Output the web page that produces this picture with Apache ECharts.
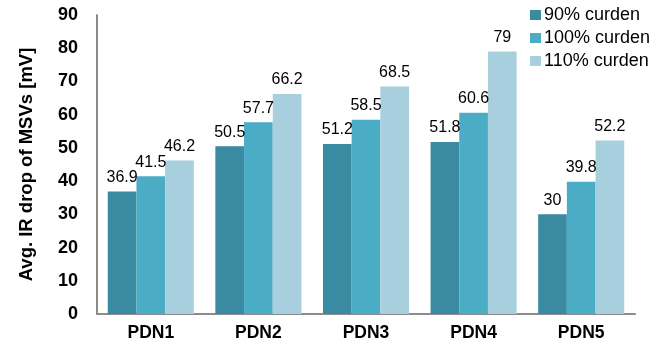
<!DOCTYPE html>
<html><head><meta charset="utf-8">
<script src="https://cdn.jsdelivr.net/npm/echarts@6/dist/echarts.min.js"></script>
<style>html,body{margin:0;padding:0;background:#fff}#c{width:672px;height:347px}</style>
</head><body><div id="c"></div>
<script>
const categories = ['PDN1','PDN2','PDN3','PDN4','PDN5'];
const seriesNames = ['90% curden','100% curden','110% curden'];
const s90 = [36.9, 50.5, 51.2, 51.8, 30];
const s100 = [41.5, 57.7, 58.5, 60.6, 39.8];
const s110 = [46.2, 66.2, 68.5, 79, 52.2];
const colors = ['#3A8AA1','#4BACC6','#A8CFDD'];
const font = 'Liberation Sans, Arial, Helvetica, sans-serif';
const data = [s90, s100, s110];
const chart = echarts.init(document.getElementById('c'));
chart.setOption({
  animation:false,
  textStyle:{fontFamily:font},
  grid:{left:97, right:37, top:15, bottom:33},
  legend:{
    orient:'vertical', left:525, top:1, itemWidth:11, itemHeight:10, itemGap:5,
    icon:'rect',
    textStyle:{fontFamily:font, fontSize:18, color:'#000', padding:[0,0,0,-2]},
    data: seriesNames
  },
  xAxis:{
    type:'category', data:categories,
    axisLine:{lineStyle:{color:'#8c8c8c', width:2}},
    axisTick:{show:false},
    axisLabel:{fontFamily:font, fontSize:17.5, fontWeight:'bold', color:'#000', margin:10}
  },
  yAxis:{
    type:'value', min:0, max:90, interval:10,
    name:'Avg. IR drop of MSVs [mV]', nameLocation:'middle', nameGap:61, nameRotate:90,
    nameTextStyle:{fontFamily:font, fontSize:18.5, fontWeight:'bold', color:'#000'},
    axisLine:{show:true, lineStyle:{color:'#8c8c8c', width:2}},
    axisTick:{show:false},
    splitLine:{show:false},
    axisLabel:{fontFamily:font, fontSize:18, fontWeight:'bold', color:'#000', margin:19}
  },
  series: seriesNames.map((n,i)=>({
    name:n, type:'bar', data:data[i], barGap:'0%', barCategoryGap:'20%',
    itemStyle:{color:colors[i]},
    label:{show:true, position:'top', fontFamily:font, fontSize:16, color:'#000', distance:6}
  }))
});
</script></body></html>
